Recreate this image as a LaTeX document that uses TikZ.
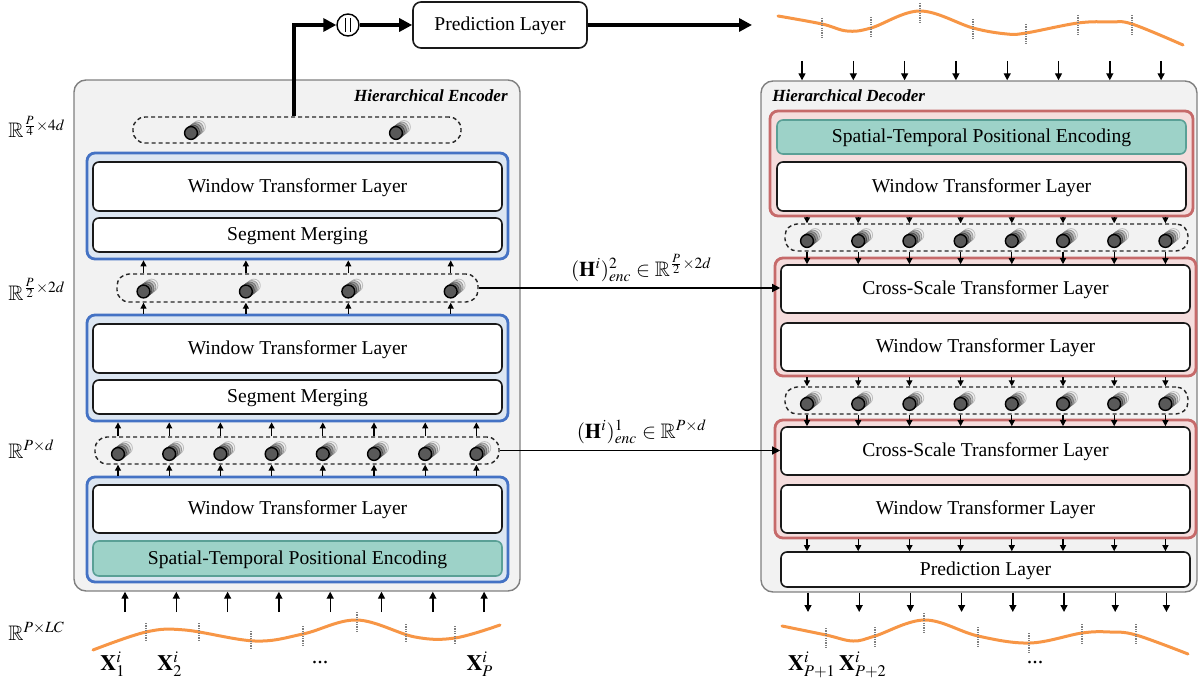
\documentclass[tikz,border=0pt]{standalone}
\usepackage{amssymb}
\usepackage{mathptmx}
\usepackage[no-math]{fontspec}
\setmainfont{Liberation Serif}
\usetikzlibrary{arrows.meta}

\definecolor{encgray}{HTML}{F2F2F2}
\definecolor{bluefill}{HTML}{DCE6F2}
\definecolor{blueline}{HTML}{4472C4}
\definecolor{redfill}{HTML}{F5DDDD}
\definecolor{redline}{HTML}{C66A6A}
\definecolor{tealfill}{HTML}{9DD2C8}
\definecolor{tealline}{HTML}{5AA096}
\definecolor{waveorange}{HTML}{F79646}

\begin{document}
\begin{tikzpicture}[x=0.5pt,y=-0.5pt,
    outerbox/.style={draw=black!50, fill=encgray, line width=0.7pt, rounded corners=6pt, minimum height=255.5pt, inner sep=0pt},
    grpblue/.style={draw=blueline, fill=bluefill, line width=1.4pt, rounded corners=4pt, minimum width=210.5pt, inner sep=0pt},
    grpred/.style={draw=redline, fill=redfill, line width=1.4pt, rounded corners=4pt, inner sep=0pt},
    layerbox/.style={draw=black!90, fill=white, line width=0.8pt, rounded corners=3pt, minimum width=204.5pt, inner sep=0pt, text height=0.68em, text depth=0.1em, font=\fontsize{9.8}{11}\selectfont},
    pebox/.style={layerbox, draw=tealline, fill=tealfill},
    rowbox/.style={draw=black!85, dash pattern=on 2pt off 1.5pt, line width=0.7pt, rounded corners=6pt, minimum height=13.5pt, inner sep=0pt},
    boxtitle/.style={inner sep=0pt, font=\fontsize{8.5}{10}\selectfont\bfseries\itshape},
    dimlabel/.style={inner sep=0pt, font=\fontsize{10.5}{12}\selectfont},
    xlabel/.style={inner sep=0pt, font=\fontsize{11}{13}\selectfont},
    tip/.style={-{Triangle[length=3pt,width=3pt]}, line width=0.6pt},
    wavetip/.style={-{Triangle[length=3.5pt,width=3.5pt]}, line width=0.7pt},
    linktip/.style={-{Triangle[length=4pt,width=4pt]}, line width=0.6pt},
    bigline/.style={-{Triangle[length=6.5pt,width=6.5pt]}, line width=1.6pt},
    wave/.style={draw=waveorange, line width=1.5pt, line cap=round},
    tick/.style={draw=black!50, dash pattern=on 0.6pt off 0.6pt, line width=0.6pt},
    tokstack/.pic={
      \draw[draw=black!25, fill=black!6, line width=0.4pt] (8,-6) circle (3.2pt);
      \draw[draw=black!40, fill=black!22, line width=0.4pt] (6,-4.5) circle (3.2pt);
      \draw[draw=black!55, fill=black!40, line width=0.4pt] (4,-3) circle (3.2pt);
      \draw[draw=black!70, fill=black!55, line width=0.4pt] (2,-1.5) circle (3.2pt);
      \draw[draw=black, fill=black!65, line width=0.7pt] (0,0) circle (3.2pt);
    }]
  \useasboundingbox (0,0) rectangle (1199,684);

  % encoder
  \node[outerbox, minimum width=223pt] (enc) at (297,335.5) {};
  \node[boxtitle, anchor=east] (encTitle) at (508,96) {Hierarchical Encoder};
  \node[rowbox, minimum width=164pt, minimum height=13pt] (encRow3) at (297,130) {};
  \node[grpblue, minimum height=53pt] (encG1) at (297.5,206) {};
  \node[layerbox, minimum height=24.5pt] (encW1) at (297.5,186.5) {Window Transformer Layer};
  \node[layerbox, minimum height=17pt] (encM1) at (297.5,235) {Segment Merging};
  \node[rowbox, minimum width=180.5pt, minimum height=14pt] (encRow2) at (297.5,288) {};
  \node[grpblue, minimum height=53pt] (encG2) at (297.5,368) {};
  \node[layerbox, minimum height=24.5pt] (encW2) at (297.5,348.5) {Window Transformer Layer};
  \node[layerbox, minimum height=17pt] (encM2) at (297.5,397) {Segment Merging};
  \node[rowbox, minimum width=202pt] (encRow1) at (297,450.5) {};
  \node[grpblue, minimum height=52.5pt] (encG3) at (297.5,529.5) {};
  \node[layerbox, minimum height=24pt] (encW3) at (297.5,509) {Window Transformer Layer};
  \node[pebox, minimum height=17.5pt] (encPE) at (297.5,558.5) {Spatial-Temporal Positional Encoding};

  % decoder
  \node[outerbox, minimum width=218pt] (dec) at (979,336.5) {};
  \node[boxtitle, anchor=west] (decTitle) at (772,96) {Hierarchical Decoder};
  \node[grpred, minimum width=211.5pt, minimum height=52.5pt] (decG1) at (981.5,163.5) {};
  \node[pebox, minimum height=17pt] (decPE) at (981.5,137) {Spatial-Temporal Positional Encoding};
  \node[layerbox, minimum height=24.5pt] (decW1) at (981.5,186.5) {Window Transformer Layer};
  \node[rowbox, minimum width=201.5pt] (decRow1) at (986.5,237.5) {};
  \node[grpred, minimum width=210.5pt, minimum height=59pt] (decG2) at (985.5,317) {};
  \node[layerbox, minimum height=24pt] (decC1) at (985.5,289) {Cross-Scale Transformer Layer};
  \node[layerbox, minimum height=24pt] (decW2) at (985.5,347) {Window Transformer Layer};
  \node[rowbox, minimum width=201.5pt] (decRow2) at (986.5,400.5) {};
  \node[grpred, minimum width=210.5pt, minimum height=59pt] (decG3) at (985.5,479) {};
  \node[layerbox, minimum height=24pt] (decC2) at (985.5,451) {Cross-Scale Transformer Layer};
  \node[layerbox, minimum height=24pt] (decW3) at (985.5,509) {Window Transformer Layer};
  \node[layerbox, minimum height=17.5pt] (decPred) at (985.5,569.5) {Prediction Layer};

  % output head
  \node[layerbox, minimum width=87pt, minimum height=23pt, rounded corners=4pt] (pred) at (500,25) {Prediction Layer};
  \node[circle, draw, fill=white, line width=0.7pt, minimum size=11pt, inner sep=0pt] (cat) at (348,25) {};
  \draw[line width=0.5pt] ([shift={(-1.1pt,3.6pt)}]cat.center) -- ([shift={(-1.1pt,-3.6pt)}]cat.center);
  \draw[line width=0.5pt] ([shift={(1.1pt,3.6pt)}]cat.center) -- ([shift={(1.1pt,-3.6pt)}]cat.center);
  \coordinate (predOut) at (752,25);
  \draw[bigline] ([xshift=-1.5pt]encRow3.north) |- (cat.west);
  \draw[bigline] (cat.east) -- (pred.west);
  \draw[bigline] (pred.east) -- (predOut);

  % encoder tokens
  \foreach \i in {1,...,8} {
    \pgfmathsetmacro{\ex}{118+51.2*(\i-1)}
    \coordinate (e1-\i) at (\ex,454);
    \pic at (e1-\i) {tokstack};
    \draw[tip] (e1-\i |- encG3.north) -- (e1-\i |- encRow1.south);
    \draw[tip] (e1-\i |- encRow1.north) -- (e1-\i |- encG2.south);
  }
  \foreach \i/\ex in {1/143.5,2/245.9,3/348.3,4/450.7} {
    \coordinate (e2-\i) at (\ex,291.5);
    \pic at (e2-\i) {tokstack};
    \draw[tip] (e2-\i |- encG2.north) -- (e2-\i |- encRow2.south);
    \draw[tip] (e2-\i |- encRow2.north) -- (e2-\i |- encG1.south);
  }
  \coordinate (e3-1) at (191,133);
  \coordinate (e3-2) at (396,133);
  \pic at (e3-1) {tokstack};
  \pic at (e3-2) {tokstack};

  % decoder tokens
  \foreach \i in {1,...,8} {
    \pgfmathsetmacro{\dx}{807+51.2*(\i-1)}
    \coordinate (d1-\i) at (\dx,241);
    \coordinate (d2-\i) at (\dx,404);
    \pic at (d1-\i) {tokstack};
    \pic at (d2-\i) {tokstack};
    \draw[tip] (d1-\i |- decG1.south) -- (d1-\i |- decRow1.north);
    \draw[tip] (d1-\i |- decRow1.south) -- (d1-\i |- decC1.north);
    \draw[tip] (d2-\i |- decG2.south) -- (d2-\i |- decRow2.north);
    \draw[tip] (d2-\i |- decRow2.south) -- (d2-\i |- decC2.north);
    \draw[tip] (d2-\i |- decG3.south) -- (d2-\i |- decPred.north);
  }

  % inputs and outputs
  \foreach \i in {1,...,8} {
    \pgfmathsetmacro{\ax}{125+51.3*(\i-1)}
    \pgfmathsetmacro{\bx}{802+51.3*(\i-1)}
    \pgfmathsetmacro{\cx}{808+51.2*(\i-1)}
    \coordinate (eb-\i) at (\ax,612);
    \coordinate (dt-\i) at (\bx,61);
    \coordinate (db-\i) at (\cx,612);
    \draw[wavetip] (eb-\i) -- (eb-\i |- enc.south);
    \draw[wavetip] (dt-\i) -- (dt-\i |- dec.north);
    \draw[wavetip] (db-\i |- dec.south) -- (db-\i);
  }

  % encoder to decoder
  \draw[linktip] (encRow2.east) -- (encRow2.east -| decC1.west)
    node[above, pos=0.54, dimlabel, yshift=3pt] (h2) {$(\mathbf{H}^i)^2_{enc}\in\mathbb{R}^{\frac{P}{2}\times 2d}$};
  \draw[linktip] (encRow1.east) -- (encRow1.east -| decC2.west)
    node[above, pos=0.507, dimlabel, yshift=3pt] (h1) {$(\mathbf{H}^i)^1_{enc}\in\mathbb{R}^{P\times d}$};

  % sizes
  \node[dimlabel, anchor=base west] (dim4) at (8,138) {$\mathbb{R}^{\frac{P}{4}\times 4d}$};
  \node[dimlabel, anchor=base west] (dim2) at (8,300) {$\mathbb{R}^{\frac{P}{2}\times 2d}$};
  \node[dimlabel, anchor=base west] (dim1) at (8,458) {$\mathbb{R}^{P\times d}$};
  \node[dimlabel, anchor=base west] (dim0) at (8,640) {$\mathbb{R}^{P\times LC}$};

  % series
  \draw[wave] plot[smooth, tension=0.6] coordinates {(93,650) (146,632) (185,630) (255,641) (303,634) (357,620) (415,637) (455,638) (500,625)};
  \foreach \x/\ya/\yb in {146/623/642, 199/623/640, 251/631/650, 303/626/646, 357/612/632, 406/624/643, 455/626/645}
    \draw[tick] (\x,\ya) -- (\x,\yb);
  \draw[wave] plot[smooth, tension=0.6] coordinates {(782,626) (826,635) (853,641) (875,636) (925,620) (978,636) (1030,643) (1082,633) (1110,632) (1136,635) (1188,654)};
  \foreach \x/\ya/\yb in {826/628/648, 875/627/648, 924/613/633, 978/627/648, 1029/633/653, 1082/624/644, 1136/624/645}
    \draw[tick] (\x,\ya) -- (\x,\yb);
  \draw[wave] plot[smooth, tension=0.6] coordinates {(778,16) (822,24) (847,31) (871,28) (920,11) (973,28) (1007,34) (1026,33) (1078,23) (1110,22) (1132,24) (1183,45)};
  \foreach \x/\ya/\yb in {822/18/38, 871/17/37, 920/3/24, 973/19/39, 1026/24/44, 1078/15/35, 1132/15/36}
    \draw[tick] (\x,\ya) -- (\x,\yb);

  \node[xlabel, anchor=base] (x1) at (113,670) {$\mathbf{X}^i_1$};
  \node[xlabel, anchor=base] (x2) at (170,670) {$\mathbf{X}^i_2$};
  \node[xlabel, anchor=base] (xdots) at (320,663) {...};
  \node[xlabel, anchor=base] (xP) at (480,670) {$\mathbf{X}^i_P$};
  \node[xlabel, anchor=base] (y1) at (812,670) {$\mathbf{X}^i_{P+1}$};
  \node[xlabel, anchor=base] (y2) at (863,670) {$\mathbf{X}^i_{P+2}$};
  \node[xlabel, anchor=base] (ydots) at (1035,663) {...};
\end{tikzpicture}
\end{document}
